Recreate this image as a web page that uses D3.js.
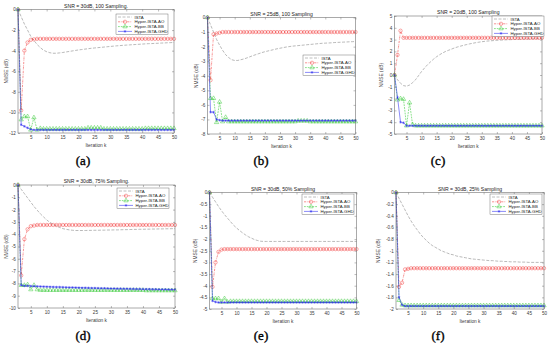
<!DOCTYPE html>
<html>
<head>
<meta charset="utf-8">
<script src="https://cdn.jsdelivr.net/npm/d3@7"></script>
<style>
  body { margin: 0; background: #fff; }
  text { font-family: "Liberation Sans", Arial, sans-serif; }
</style>
</head>
<body>
<div id="chart"></div>
<script>
////////////////////////////////////////////////////////////
//////////////////////// Data //////////////////////////////
////////////////////////////////////////////////////////////

var iterations = [1, 2, 3, 4, 5, 6, 7, 8, 9, 10,
  11, 12, 13, 14, 15, 16, 17, 18, 19, 20,
  21, 22, 23, 24, 25, 26, 27, 28, 29, 30,
  31, 32, 33, 34, 35, 36, 37, 38, 39, 40,
  41, 42, 43, 44, 45, 46, 47, 48, 49, 50];

var seriesNames = ["ISTA", "Hyper-ISTA-AO", "Hyper-ISTA-BB", "Hyper-ISTA-GHD"];

var titles = ["SNR = 30dB, 100 Sampling.", "SNR = 25dB, 100 Sampling", "SNR = 20dB, 100 Sampling",
  "SNR = 30dB, 75% Sampling.", "SNR = 30dB, 50% Sampling", "SNR = 30dB, 25% Sampling"];
var captions = ["(a)", "(b)", "(c)", "(d)", "(e)", "(f)"];

var xTicks = [5, 10, 15, 20, 25, 30, 35, 40, 45, 50];
var yTicksA = [-12, -10, -8, -6, -4, -2, 0];
var yTicksB = [-8, -7, -6, -5, -4, -3, -2, -1, 0];
var yTicksC = [-5, -4, -3, -2, -1, 0, 1, 2, 3, 4, 5];
var yTicksD = [-10, -9, -8, -7, -6, -5, -4, -3, -2, -1, 0];
var yTicksE = [-5, -4.5, -4, -3.5, -3, -2.5, -2, -1.5, -1, -0.5, 0];
var yTicksF = [-2, -1.8, -1.6, -1.4, -1.2, -1, -0.8, -0.6, -0.4, -0.2, 0];

// (a) SNR 30dB, 100 sampling
var istaA = [0, -0.7, -1.4, -2.0, -2.6, -3.0, -3.4, -3.7, -3.95, -4.1,
  -4.2, -4.25, -4.25, -4.22, -4.18, -4.13, -4.08, -4.03, -3.98, -3.93,
  -3.89, -3.85, -3.81, -3.77, -3.74, -3.71, -3.68, -3.65, -3.62, -3.59,
  -3.56, -3.53, -3.51, -3.48, -3.46, -3.44, -3.42, -3.40, -3.38, -3.36,
  -3.34, -3.32, -3.31, -3.29, -3.28, -3.26, -3.25, -3.23, -3.22, -3.2];
var aoA = [0, -9.8, -4.0, -3.2, -2.95, -2.9, -2.85, -2.85, -2.85, -2.85,
  -2.85, -2.85, -2.85, -2.85, -2.85, -2.85, -2.85, -2.85, -2.85, -2.85,
  -2.85, -2.85, -2.85, -2.85, -2.85, -2.85, -2.85, -2.85, -2.85, -2.85,
  -2.85, -2.85, -2.85, -2.85, -2.85, -2.85, -2.85, -2.85, -2.85, -2.85,
  -2.85, -2.85, -2.85, -2.85, -2.85, -2.85, -2.85, -2.85, -2.85, -2.85];
var bbA = [0, -10.7, -10.4, -10.4, -11.7, -10.5, -11.7, -11.55, -11.6, -11.6,
  -11.6, -11.6, -11.6, -11.6, -11.6, -11.6, -11.6, -11.6, -11.6, -11.6,
  -11.6, -11.6, -11.5, -11.5, -11.5, -11.5, -11.5, -11.6, -11.6, -11.6,
  -11.6, -11.6, -11.6, -11.6, -11.6, -11.6, -11.6, -11.6, -11.6, -11.6,
  -11.55, -11.55, -11.55, -11.55, -11.55, -11.55, -11.55, -11.55, -11.55, -11.55];
var ghdA = [0, -11.2, -11.35, -11.5, -11.65, -11.7, -11.7, -11.7, -11.7, -11.7,
  -11.7, -11.7, -11.7, -11.7, -11.7, -11.7, -11.7, -11.7, -11.7, -11.7,
  -11.7, -11.7, -11.7, -11.7, -11.7, -11.7, -11.7, -11.7, -11.7, -11.7,
  -11.7, -11.7, -11.7, -11.7, -11.7, -11.7, -11.7, -11.7, -11.7, -11.7,
  -11.7, -11.7, -11.7, -11.7, -11.7, -11.7, -11.7, -11.7, -11.7, -11.7];

// (b) SNR 25dB, 100 sampling
var istaB = [0, -0.5, -1.0, -1.5, -1.9, -2.25, -2.55, -2.75, -2.9, -2.95,
  -2.95, -2.9, -2.85, -2.78, -2.7, -2.62, -2.55, -2.48, -2.41, -2.35,
  -2.3, -2.25, -2.2, -2.15, -2.11, -2.07, -2.03, -2.0, -1.97, -1.95,
  -1.93, -1.91, -1.89, -1.87, -1.85, -1.83, -1.81, -1.79, -1.77, -1.76,
  -1.75, -1.74, -1.72, -1.71, -1.7, -1.69, -1.68, -1.67, -1.66, -1.65];
var aoB = [0, -4.3, -1.15, -1.1, -1.05, -1.0, -1.0, -1.0, -1.0, -1.0,
  -1.0, -1.0, -1.0, -1.0, -1.0, -1.0, -1.0, -1.0, -1.0, -1.0,
  -1.0, -1.0, -1.0, -1.0, -1.0, -1.0, -1.0, -1.0, -1.0, -1.0,
  -1.0, -1.0, -1.0, -1.0, -1.0, -1.0, -1.0, -1.0, -1.0, -1.0,
  -1.0, -1.0, -1.0, -1.0, -1.0, -1.0, -1.0, -1.0, -1.0, -1.0];
var bbB = [0, -5.55, -5.55, -7.2, -5.8, -7.15, -6.85, -7.15, -7.15, -7.15,
  -7.15, -7.15, -7.15, -7.15, -7.15, -7.15, -7.15, -7.15, -7.15, -7.15,
  -7.15, -7.15, -7.15, -7.15, -7.15, -7.15, -7.15, -7.15, -7.15, -7.15,
  -7.1, -7.1, -7.1, -7.1, -7.15, -7.15, -7.15, -7.15, -7.15, -7.15,
  -7.15, -7.15, -7.15, -7.15, -7.15, -7.15, -7.15, -7.15, -7.15, -7.15];
var ghdB = [0, -6.5, -6.5, -7.0, -7.05, -7.08, -7.08, -7.08, -7.08, -7.08,
  -7.08, -7.08, -7.08, -7.08, -7.08, -7.08, -7.08, -7.08, -7.08, -7.08,
  -7.08, -7.08, -7.08, -7.08, -7.08, -7.08, -7.08, -7.08, -7.08, -7.08,
  -7.08, -7.08, -7.08, -7.08, -7.08, -7.08, -7.08, -7.08, -7.08, -7.08,
  -7.08, -7.08, -7.08, -7.08, -7.08, -7.08, -7.08, -7.08, -7.08, -7.08];

// (c) SNR 20dB, 100 sampling
var istaC = [0, -0.4, -0.7, -0.9, -0.95, -0.85, -0.65, -0.4, -0.05, 0.3,
  0.6, 0.88, 1.12, 1.35, 1.55, 1.72, 1.87, 2.0, 2.1, 2.2,
  2.3, 2.38, 2.45, 2.52, 2.58, 2.64, 2.69, 2.74, 2.78, 2.82,
  2.85, 2.88, 2.9, 2.92, 2.94, 2.96, 2.97, 2.98, 2.99, 3.0,
  3.01, 3.02, 3.03, 3.04, 3.05, 3.05, 3.06, 3.07, 3.07, 3.08];
var aoC = [0, 1.7, 3.75, 3.15, 3.15, 3.15, 3.15, 3.15, 3.15, 3.15,
  3.15, 3.15, 3.15, 3.15, 3.15, 3.15, 3.15, 3.15, 3.15, 3.15,
  3.15, 3.15, 3.15, 3.15, 3.15, 3.15, 3.15, 3.15, 3.15, 3.15,
  3.15, 3.15, 3.15, 3.15, 3.15, 3.15, 3.15, 3.15, 3.15, 3.15,
  3.15, 3.15, 3.15, 3.15, 3.15, 3.15, 3.15, 3.15, 3.15, 3.15];
var bbC = [0, -2.1, -2.0, -2.05, -4.3, -2.35, -4.2, -4.3, -4.3, -4.3,
  -4.3, -4.3, -4.3, -4.3, -4.3, -4.3, -4.3, -4.3, -4.3, -4.3,
  -4.3, -4.3, -4.3, -4.3, -4.3, -4.3, -4.3, -4.3, -4.3, -4.3,
  -4.3, -4.3, -4.3, -4.3, -4.3, -4.3, -4.3, -4.3, -4.3, -4.3,
  -4.3, -4.3, -4.3, -4.3, -4.3, -4.3, -4.3, -4.3, -4.3, -4.3];
var ghdC = [0, -1.9, -4.0, -4.05, -4.3, -4.3, -4.3, -4.3, -4.3, -4.3,
  -4.3, -4.3, -4.3, -4.3, -4.3, -4.3, -4.3, -4.3, -4.3, -4.3,
  -4.3, -4.3, -4.3, -4.3, -4.3, -4.3, -4.3, -4.3, -4.3, -4.3,
  -4.3, -4.3, -4.3, -4.3, -4.3, -4.3, -4.3, -4.3, -4.3, -4.3,
  -4.3, -4.3, -4.3, -4.3, -4.3, -4.3, -4.3, -4.3, -4.3, -4.3];

// (d) SNR 30dB, 75% sampling
var istaD = [0, -0.35, -0.7, -1.05, -1.4, -1.75, -2.05, -2.35, -2.6, -2.85,
  -3.05, -3.2, -3.35, -3.45, -3.55, -3.6, -3.65, -3.68, -3.7, -3.7,
  -3.7, -3.7, -3.69, -3.69, -3.68, -3.68, -3.67, -3.67, -3.66, -3.66,
  -3.65, -3.65, -3.64, -3.63, -3.63, -3.62, -3.61, -3.61, -3.6, -3.6,
  -3.59, -3.59, -3.58, -3.58, -3.57, -3.57, -3.56, -3.56, -3.55, -3.55];
var aoD = [0, -7.35, -4.4, -3.6, -3.35, -3.3, -3.25, -3.25, -3.25, -3.25,
  -3.25, -3.25, -3.25, -3.25, -3.25, -3.25, -3.25, -3.25, -3.25, -3.25,
  -3.25, -3.25, -3.25, -3.25, -3.25, -3.25, -3.25, -3.25, -3.25, -3.25,
  -3.25, -3.25, -3.25, -3.25, -3.25, -3.25, -3.25, -3.25, -3.25, -3.25,
  -3.25, -3.25, -3.25, -3.25, -3.25, -3.25, -3.25, -3.25, -3.25, -3.25];
var bbD = [0, -8.15, -8.15, -8.1, -8.5, -8.15, -8.5, -8.55, -8.55, -8.55,
  -8.55, -8.55, -8.55, -8.55, -8.55, -8.55, -8.55, -8.55, -8.55, -8.55,
  -8.55, -8.55, -8.55, -8.55, -8.55, -8.55, -8.55, -8.55, -8.55, -8.55,
  -8.55, -8.55, -8.55, -8.55, -8.55, -8.55, -8.55, -8.55, -8.55, -8.55,
  -8.58, -8.58, -8.58, -8.58, -8.58, -8.58, -8.58, -8.58, -8.58, -8.58];
var ghdD = [0, -8.15, -8.2, -8.2, -8.22, -8.23, -8.24, -8.25, -8.26, -8.27,
  -8.28, -8.29, -8.3, -8.3, -8.31, -8.32, -8.33, -8.33, -8.34, -8.35,
  -8.36, -8.36, -8.37, -8.38, -8.38, -8.39, -8.4, -8.4, -8.41, -8.42,
  -8.42, -8.43, -8.43, -8.44, -8.44, -8.45, -8.45, -8.46, -8.46, -8.47,
  -8.47, -8.47, -8.48, -8.48, -8.49, -8.49, -8.49, -8.5, -8.5, -8.5];

// (e) SNR 30dB, 50% sampling
var istaE = [0, -0.2, -0.4, -0.6, -0.78, -0.95, -1.1, -1.25, -1.4, -1.52,
  -1.63, -1.73, -1.82, -1.9, -1.96, -2.02, -2.06, -2.09, -2.1, -2.1,
  -2.1, -2.1, -2.1, -2.1, -2.1, -2.1, -2.1, -2.1, -2.1, -2.1,
  -2.1, -2.1, -2.1, -2.1, -2.1, -2.1, -2.1, -2.1, -2.1, -2.1,
  -2.1, -2.1, -2.1, -2.1, -2.1, -2.1, -2.1, -2.1, -2.1, -2.1];
var aoE = [0, -4.05, -3.0, -2.55, -2.45, -2.43, -2.43, -2.43, -2.43, -2.43,
  -2.43, -2.43, -2.43, -2.43, -2.43, -2.43, -2.43, -2.43, -2.43, -2.43,
  -2.43, -2.43, -2.43, -2.43, -2.43, -2.43, -2.43, -2.43, -2.43, -2.43,
  -2.43, -2.43, -2.43, -2.43, -2.43, -2.43, -2.43, -2.43, -2.43, -2.43,
  -2.43, -2.43, -2.43, -2.43, -2.43, -2.43, -2.43, -2.43, -2.43, -2.43];
var bbE = [0, -4.55, -4.55, -4.55, -4.7, -4.55, -4.7, -4.67, -4.67, -4.67,
  -4.67, -4.67, -4.67, -4.67, -4.67, -4.67, -4.67, -4.67, -4.67, -4.67,
  -4.67, -4.67, -4.67, -4.67, -4.67, -4.67, -4.67, -4.67, -4.67, -4.67,
  -4.67, -4.67, -4.67, -4.67, -4.67, -4.67, -4.67, -4.67, -4.67, -4.67,
  -4.67, -4.67, -4.67, -4.67, -4.67, -4.67, -4.67, -4.67, -4.67, -4.67];
var ghdE = [0, -4.65, -4.7, -4.72, -4.72, -4.72, -4.72, -4.72, -4.72, -4.72,
  -4.72, -4.72, -4.72, -4.72, -4.72, -4.72, -4.72, -4.72, -4.72, -4.72,
  -4.72, -4.72, -4.72, -4.72, -4.72, -4.72, -4.72, -4.72, -4.72, -4.72,
  -4.72, -4.72, -4.72, -4.72, -4.72, -4.72, -4.72, -4.72, -4.72, -4.72,
  -4.72, -4.72, -4.72, -4.72, -4.72, -4.72, -4.72, -4.72, -4.72, -4.72];

// (f) SNR 30dB, 25% sampling
var istaF = [0, -0.1, -0.2, -0.3, -0.4, -0.49, -0.57, -0.64, -0.71, -0.77,
  -0.82, -0.87, -0.91, -0.94, -0.97, -1.0, -1.02, -1.04, -1.06, -1.07,
  -1.09, -1.1, -1.11, -1.12, -1.13, -1.14, -1.145, -1.15, -1.155, -1.16,
  -1.165, -1.17, -1.17, -1.175, -1.18, -1.18, -1.185, -1.185, -1.19, -1.19,
  -1.19, -1.195, -1.195, -1.195, -1.2, -1.2, -1.2, -1.2, -1.2, -1.2];
var aoF = [0, -1.62, -1.55, -1.32, -1.31, -1.3, -1.3, -1.3, -1.3, -1.3,
  -1.3, -1.3, -1.3, -1.3, -1.3, -1.3, -1.3, -1.3, -1.3, -1.3,
  -1.3, -1.3, -1.3, -1.3, -1.3, -1.3, -1.3, -1.3, -1.3, -1.3,
  -1.3, -1.3, -1.3, -1.3, -1.3, -1.3, -1.3, -1.3, -1.3, -1.3,
  -1.3, -1.3, -1.3, -1.3, -1.3, -1.3, -1.3, -1.3, -1.3, -1.3];
var bbF = [0, -1.85, -1.93, -1.94, -1.94, -1.94, -1.94, -1.94, -1.94, -1.94,
  -1.94, -1.94, -1.94, -1.94, -1.94, -1.94, -1.94, -1.94, -1.94, -1.94,
  -1.94, -1.94, -1.94, -1.94, -1.94, -1.94, -1.94, -1.94, -1.94, -1.94,
  -1.94, -1.94, -1.94, -1.94, -1.94, -1.94, -1.94, -1.94, -1.94, -1.94,
  -1.94, -1.94, -1.94, -1.94, -1.94, -1.94, -1.94, -1.94, -1.94, -1.94];
var ghdF = [0, -1.8, -1.93, -1.95, -1.95, -1.95, -1.95, -1.95, -1.95, -1.95,
  -1.95, -1.95, -1.95, -1.95, -1.95, -1.95, -1.95, -1.95, -1.95, -1.95,
  -1.95, -1.95, -1.95, -1.95, -1.95, -1.95, -1.95, -1.95, -1.95, -1.95,
  -1.95, -1.95, -1.95, -1.95, -1.95, -1.95, -1.95, -1.95, -1.95, -1.95,
  -1.95, -1.95, -1.95, -1.95, -1.95, -1.95, -1.95, -1.95, -1.95, -1.95];

////////////////////////////////////////////////////////////
///////////////////// Layout ///////////////////////////////
////////////////////////////////////////////////////////////

// axes box [left, right, top, bottom], y label x, legend top-left, caption x/y
var panels = [
  {box: [18, 174, 9.5, 133], ylab: 6, leg: [116, 14], cap: [83, 165], dom: [-12, 0], ticks: yTicksA, series: [istaA, aoA, bbA, ghdA]},
  {box: [207.5, 355.5, 17.5, 134], ylab: 196, leg: [303, 55], cap: [261, 165], dom: [-8, 0], ticks: yTicksB, series: [istaB, aoB, bbB, ghdB]},
  {box: [394.5, 542, 16, 134], ylab: 381, leg: [492, 16], cap: [438, 165], dom: [-5, 5], ticks: yTicksC, series: [istaC, aoC, bbC, ghdC]},
  {box: [18, 175, 185, 308], ylab: 6, leg: [117, 188], cap: [83, 340], dom: [-10, 0], ticks: yTicksD, series: [istaD, aoD, bbD, ghdD]},
  {box: [209.5, 356.5, 192.5, 309], ylab: 195, leg: [302, 194], cap: [261, 340], dom: [-5, 0], ticks: yTicksE, series: [istaE, aoE, bbE, ghdE]},
  {box: [396, 544, 192.5, 309], ylab: 378, leg: [490, 194], cap: [438, 340], dom: [-2, 0], ticks: yTicksF, series: [istaF, aoF, bbF, ghdF]}
];

var colors = ["#8a8a8a", "#f23a3a", "#2cc82c", "#2a2af0"],
    dashes = ["3,1.5", "2.2,0.9,0.6,0.9", "1.8,1", null],
    symbols = [null, d3.symbolCircle, d3.symbolTriangle, d3.symbolAsterisk],
    symSizes = [0, 9, 8, 5];

var svg = d3.select("#chart").append("svg")
  .attr("width", 550)
  .attr("height", 348)
  .style("display", "block");

svg.append("rect").attr("width", 550).attr("height", 348).attr("fill", "#fff");

var axisColor = "#555", textColor = "#3a3a3a";

function styleAxis(g) {
  g.select(".domain").remove();
  g.selectAll(".tick line").attr("stroke", axisColor).attr("stroke-width", 0.4);
  g.selectAll(".tick text").attr("fill", textColor).style("font-size", "4.6px");
}

////////////////////////////////////////////////////////////
/////////////////// Draw each panel ////////////////////////
////////////////////////////////////////////////////////////

panels.forEach(function(p, pi) {
  var x0 = p.box[0], x1 = p.box[1], y0 = p.box[2], y1 = p.box[3];

  var x = d3.scaleLinear().domain([1, 50]).range([x0, x1]);
  var y = d3.scaleLinear().domain(p.dom).range([y1, y0]);

  var g = svg.append("g").attr("class", "panel");

  g.append("rect")
    .attr("x", x0).attr("y", y0)
    .attr("width", x1 - x0).attr("height", y1 - y0)
    .attr("fill", "#fff");

  // inward ticks on all four sides
  g.append("g").attr("transform", "translate(0," + y1 + ")")
    .call(d3.axisBottom(x).tickValues(xTicks).tickSize(-2).tickSizeOuter(0).tickPadding(2.6)
      .tickFormat(function(d) { return String(d); }))
    .call(styleAxis);
  g.append("g").attr("transform", "translate(0," + y0 + ")")
    .call(d3.axisTop(x).tickValues(xTicks).tickSize(-2).tickSizeOuter(0).tickFormat(""))
    .call(styleAxis);
  g.append("g").attr("transform", "translate(" + x0 + ",0)")
    .call(d3.axisLeft(y).tickValues(p.ticks).tickSize(-2).tickSizeOuter(0).tickPadding(2.2)
      .tickFormat(function(d) { return String(d); }))
    .call(styleAxis);
  g.append("g").attr("transform", "translate(" + x1 + ",0)")
    .call(d3.axisRight(y).tickValues(p.ticks).tickSize(-2).tickSizeOuter(0).tickFormat(""))
    .call(styleAxis);

  // series
  p.series.forEach(function(vals, si) {
    var pts = iterations.map(function(k, i) { return [k, vals[i]]; });
    var line = d3.line().x(function(d) { return x(d[0]); }).y(function(d) { return y(d[1]); });

    g.append("path")
      .datum(pts)
      .attr("d", line)
      .attr("fill", "none")
      .attr("stroke", colors[si])
      .attr("stroke-width", si === 0 ? 0.6 : 0.55)
      .attr("stroke-dasharray", dashes[si]);

    if (symbols[si]) {
      g.selectAll("path.m" + si)
        .data(pts)
        .enter().append("path")
        .attr("class", "m" + si)
        .attr("d", d3.symbol().type(symbols[si]).size(symSizes[si]))
        .attr("transform", function(d) { return "translate(" + x(d[0]) + "," + y(d[1]) + ")"; })
        .attr("fill", "none")
        .attr("stroke", colors[si])
        .attr("stroke-width", 0.45);
    }
  });

  // box
  g.append("rect")
    .attr("x", x0).attr("y", y0)
    .attr("width", x1 - x0).attr("height", y1 - y0)
    .attr("fill", "none")
    .attr("stroke", axisColor)
    .attr("stroke-width", 0.5);

  // title and axis labels
  g.append("text")
    .attr("x", (x0 + x1) / 2).attr("y", y0 - 2)
    .attr("text-anchor", "middle")
    .attr("fill", "#222")
    .style("font-size", "5.1px")
    .text(titles[pi]);

  g.append("text")
    .attr("x", (x0 + x1) / 2).attr("y", y1 + 13.5)
    .attr("text-anchor", "middle")
    .attr("fill", textColor)
    .style("font-size", "4.8px")
    .text("Iteration k");

  g.append("text")
    .attr("transform", "translate(" + p.ylab + "," + ((y0 + y1) / 2) + ")rotate(-90)")
    .attr("text-anchor", "middle")
    .attr("dy", "0.35em")
    .attr("fill", textColor)
    .style("font-size", "4.8px")
    .text("NMSE (dB)");

  // legend
  var lx = p.leg[0], ly = p.leg[1], lw = 52, lh = 20.5;
  var leg = g.append("g").attr("transform", "translate(" + lx + "," + ly + ")");
  leg.append("rect")
    .attr("width", lw).attr("height", lh)
    .attr("fill", "#fff")
    .attr("stroke", axisColor)
    .attr("stroke-width", 0.4);

  seriesNames.forEach(function(name, si) {
    var ry = 3 + si * 4.8;
    leg.append("line")
      .attr("x1", 2).attr("x2", 16).attr("y1", ry).attr("y2", ry)
      .attr("stroke", colors[si])
      .attr("stroke-width", 0.55)
      .attr("stroke-dasharray", dashes[si]);
    if (symbols[si]) {
      leg.append("path")
        .attr("d", d3.symbol().type(symbols[si]).size(symSizes[si]))
        .attr("transform", "translate(9," + ry + ")")
        .attr("fill", "none")
        .attr("stroke", colors[si])
        .attr("stroke-width", 0.45);
    }
    leg.append("text")
      .attr("x", 18.5).attr("y", ry)
      .attr("dy", "0.35em")
      .attr("fill", "#222")
      .style("font-size", "4.3px")
      .text(name);
  });

  // sub-figure caption
  svg.append("text")
    .attr("x", p.cap[0]).attr("y", p.cap[1])
    .attr("text-anchor", "middle")
    .attr("fill", "#000")
    .attr("stroke", "#000")
    .attr("stroke-width", 0.35)
    .style("font-family", "'Liberation Serif', 'DejaVu Serif', serif")
    .style("font-size", "13px")
    .text(captions[pi]);
});
</script>
</body>
</html>
